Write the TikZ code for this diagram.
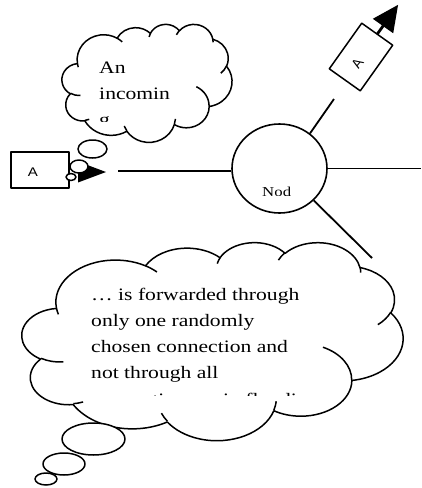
\documentclass[tikz,border=0pt]{standalone}
\usepackage{fontspec}
\setmainfont{Liberation Serif}
\newfontfamily\arialfont{Liberation Sans}
\usetikzlibrary{shapes.geometric}
\tikzset{
  oarc/.style n args={4}{insert path={\pgfextra{%
      \pgfmathsetmacro\oSA{atan2((#1)*sin(#3),(#2)*cos(#3))}%
      \pgfmathsetmacro\oEA{atan2((#1)*sin((#3)+(#4)),(#2)*cos((#3)+(#4)))}%
      \pgfmathsetmacro\oDA{mod(\oEA-(\oSA)+720,360)}%
      \global\let\oSA\oSA \global\let\oDA\oDA}%
    arc[x radius=#1, y radius=#2, start angle=\oSA, delta angle=\oDA]}},
  cloudline/.style={line width=1.5pt, draw=black},
  boxline/.style={line width=1.5pt, draw=black},
  conn/.style={line width=1.8pt},
  txt/.style={font=\fontsize{17.5}{21}\selectfont, xscale=1.234, anchor=base west, inner sep=0pt},
  lbl/.style={font=\arialfont\fontsize{12.5}{14}\selectfont, xscale=1.2, anchor=base, inner sep=0pt}
}
\newcommand\cloudbody{%
\path[cloudline,fill=white] (9.028,33.264)
 [oarc={15.632}{21.273}{-190.487}{123.781}]
 [oarc={12.345}{16.822}{-144.102}{89.945}]
 [oarc={10.104}{13.762}{-145.808}{99.723}]
 [oarc={11.243}{15.266}{-130.986}{117.242}]
 [oarc={12.345}{16.836}{-78.709}{109.027}]
 [oarc={15.683}{21.343}{-46.267}{130.269}]
 [oarc={13.391}{18.211}{0.625}{114.033}]
 [oarc={15.630}{21.331}{22.452}{115.173}]
 [oarc={17.870}{24.405}{66.243}{75.711}]
 [oarc={10.093}{13.699}{-274.942}{146.736}]
 [oarc={10.058}{13.762}{-246.829}{152.519}]
 -- cycle;
\path[cloudline] (10.863,60.595) [oarc={10.058}{13.762}{86.742}{26.430}]
 (16.037,80.785) [oarc={10.093}{13.699}{73.610}{11.447}]
 (38.144,90.486) [oarc={15.630}{21.331}{137.624}{14.081}]
 (66.729,80.442) [oarc={15.630}{21.331}{6.453}{15.998}]
 (79.002,53.134) [oarc={13.391}{18.211}{-70.292}{70.917}]
 (96.755,35.542) [oarc={12.345}{16.836}{30.318}{27.752}]
 (88.713,12.560) [oarc={11.243}{15.266}{-13.744}{14.859}]
 (67.310,9.148) [oarc={11.243}{15.266}{-149.181}{18.195}]
 (51.252,10.926) [oarc={10.104}{13.762}{-163.494}{17.686}]
 (32.407,12.019) [oarc={15.632}{21.273}{-66.707}{12.319}]
 (9.553,36.549) [oarc={15.632}{21.273}{157.654}{11.858}];
}
\begin{document}
\begin{tikzpicture}[x=1pt,y=-1pt,line join=round]
\useasboundingbox (0,0) rectangle (421,488);
\fill[white] (0,0) rectangle (421,488);

% node circle and connections
\node[draw, ellipse, line width=1.6pt, minimum width=95pt, minimum height=89pt, inner sep=0pt] (nd) at (279.5,168.5) {};
\begin{scope}
\clip (240,180) rectangle (290,195);
\node[font=\fontsize{13.6}{16}\selectfont, xscale=1.234, anchor=base west, inner sep=0pt] (ndtxt) at (262,196.5) {Node};
\end{scope}
\coordinate (lstart) at (118,171);
\coordinate (rend) at (421,168.5);
\coordinate (urend) at (334,99);
\coordinate (lrend) at (372,258);
\draw[line width=2.8pt] (lstart) -- (nd.west |- lstart);
\draw[conn] (nd.east) -- (rend);
\draw[conn] (nd.49) -- (urend);
\draw[conn] (nd.-43) -- (lrend);

% incoming packet (left)
\draw[boxline] (11,152) rectangle (69,188);
\node[lbl] (pa) at (33,176) {A};
\fill (78,161.5) -- (78,182.5) -- (106,172) -- cycle;

% forwarded packet (rotated)
\begin{scope}[shift={(361,57)}, rotate=54.6]
\draw[boxline] (-28,-19) rectangle (28,19);
\draw[line width=2.8pt] (28,0) -- (39,0);
\fill (38,-12.5) -- (38,12.5) -- (64,0) -- cycle;
\node[lbl, rotate=54.6] (pb) at (-7,5.5) {A};
\end{scope}

% top-left cloud
\begin{scope}[shift={(62,24)}, x=1.70pt, y=-1.18pt]
\cloudbody
\end{scope}
\draw[cloudline, fill=white] (92.5,149) ellipse [x radius=14.5, y radius=9];
\draw[cloudline, fill=white] (79,166.5) ellipse [x radius=9, y radius=6.5];
\draw[cloudline, fill=white] (71,177) ellipse [x radius=5, y radius=3.5];
\begin{scope}
\clip (95,55) rectangle (200,121);
\node[txt] (t1) at (99,73) {An};
\node[txt] (t2) at (99,99.5) {incomin};
\node[txt] (t3) at (99,125.5) {g};
\end{scope}

% bottom cloud
\begin{scope}[shift={(22,242)}, x=3.81pt, y=-1.98pt]
\cloudbody
\end{scope}
\draw[cloudline, fill=white] (93.5,439) ellipse [x radius=31.5, y radius=16];
\draw[cloudline, fill=white] (64,464) ellipse [x radius=21, y radius=11];
\draw[cloudline, fill=white] (46,479) ellipse [x radius=11, y radius=6];
\begin{scope}
\clip (85,280) rectangle (330,395);
\node[txt] (b1) at (91,300) {… is forwarded through};
\node[txt] (b2) at (91,326) {only one randomly};
\node[txt] (b3) at (91,352) {chosen connection and};
\node[txt] (b4) at (91,378) {not through all};
\node[txt] (b5) at (91,405) {connections as in flooding};
\end{scope}
\end{tikzpicture}
\end{document}
